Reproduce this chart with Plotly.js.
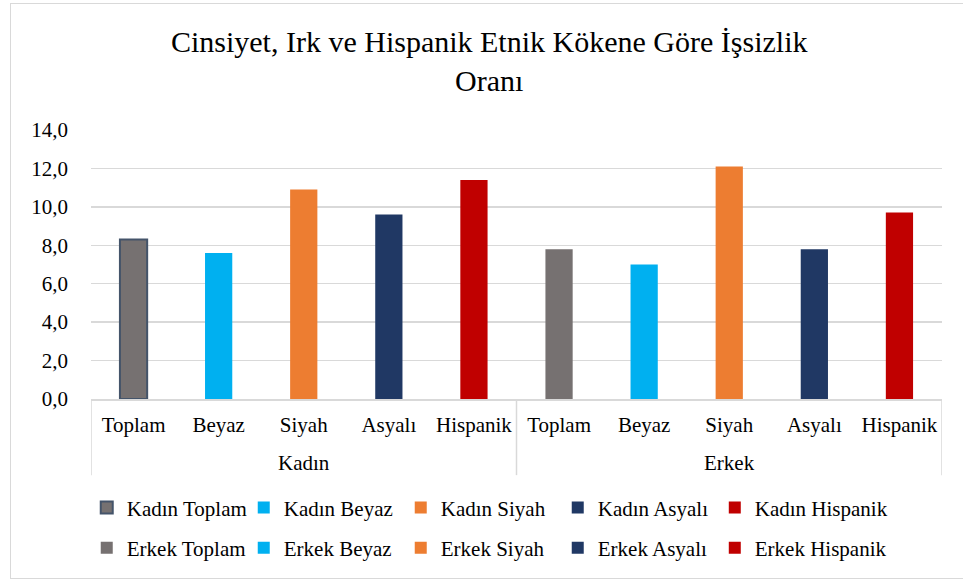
<!DOCTYPE html>
<html>
<head>
<meta charset="utf-8">
<script src="https://cdn.plot.ly/plotly-3.0.1.min.js"></script>
<style>
html,body{margin:0;padding:0;background:#fff;overflow:hidden;}
#frame{position:absolute;left:10px;top:3px;width:980px;height:574px;border:1px solid #d9d9d9;box-sizing:content-box;}
#chart{position:absolute;left:0;top:0;width:963px;height:581px;}
</style>
</head>
<body>
<div id="frame"></div>
<div id="chart"></div>
<script>
const groups = ['Kadın', 'Erkek'];
const races = ['Toplam', 'Beyaz', 'Siyah', 'Asyalı', 'Hispanik'];
const kadinValues = [8.3, 7.6, 10.9, 9.6, 11.4];
const erkekValues = [7.8, 7.0, 12.1, 7.8, 9.7];
const raceColors = ['#767171', '#00b0f0', '#ed7d31', '#203864', '#c00000'];
const yTickVals = [0, 2, 4, 6, 8, 10, 12, 14];

const FONT = 'Liberation Serif, Times New Roman, serif';
const seriesValues = [kadinValues, erkekValues];
const lastRace = races.length - 1;

const rowLegend = ['legend', 'legend2'];
const tailLegend = ['legend3', 'legend4'];

const categoryKeys = [];
const categoryText = [];
const traces = [];
groups.forEach((g, gi) => {
  races.forEach((r, ri) => {
    const key = g + ' ' + r;
    categoryKeys.push(key);
    categoryText.push(r);
    const outlined = (gi === 0 && ri === 0);
    traces.push({
      type: 'bar',
      x: [key],
      y: [seriesValues[gi][ri]],
      name: key,
      width: 0.32,
      marker: {
        color: raceColors[ri],
        line: outlined ? {color: '#44546a', width: 2} : {width: 0}
      },
      legend: ri === lastRace ? tailLegend[gi] : rowLegend[gi],
      hoverinfo: 'y'
    });
  });
});

const annotations = groups.map((g, gi) => ({
  text: g,
  x: categoryKeys[gi * races.length + Math.floor(races.length / 2)],
  xref: 'x', yref: 'paper', y: -0.238,
  xanchor: 'center', yanchor: 'middle',
  showarrow: false,
  font: {family: FONT, size: 21, color: '#000'}
}));

const shapes = [];
for (let k = 0; k <= groups.length; k++) {
  const xb = k * races.length - 0.5;
  shapes.push({
    type: 'line', xref: 'x', yref: 'paper',
    x0: xb, x1: xb, y0: 0, y1: -0.283,
    line: {color: '#d9d9d9', width: 1.5}
  });
}

const legendCommon = {
  orientation: 'h',
  xref: 'paper', yref: 'paper',
  x: -0.005, xanchor: 'left',
  yanchor: 'middle',
  entrywidth: 112, entrywidthmode: 'pixels',
  itemwidth: 30,
  font: {family: FONT, size: 21, color: '#000'},
  bgcolor: 'rgba(0,0,0,0)',
  traceorder: 'normal'
};
const tailCommon = Object.assign({}, legendCommon, {x: 0.733, entrywidth: 0});

const layout = {
  width: 963, height: 581,
  paper_bgcolor: 'rgba(0,0,0,0)',
  plot_bgcolor: 'rgba(0,0,0,0)',
  separators: ',.',
  font: {family: FONT, size: 21, color: '#000'},
  margin: {l: 91, r: 21, t: 130, b: 182},
  title: {
    text: 'Cinsiyet, Irk ve Hispanik Etnik Kökene Göre İşsizlik<br>Oranı',
    font: {family: FONT, size: 30, color: '#000'},
    xref: 'container', x: 0.508, xanchor: 'center',
    yref: 'container', y: 0.91, yanchor: 'top'
  },
  barmode: 'overlay',
  showlegend: true,
  annotations: annotations,
  shapes: shapes,
  xaxis: {
    type: 'category',
    categoryorder: 'array', categoryarray: categoryKeys,
    tickvals: categoryKeys, ticktext: categoryText,
    range: [-0.5, categoryKeys.length - 0.5],
    showline: true, linecolor: '#d9d9d9', linewidth: 1.5,
    showgrid: false,
    ticks: '',
    ticklabelstandoff: 6,
    tickfont: {family: FONT, size: 21, color: '#000'},
    fixedrange: true
  },
  yaxis: {
    range: [0, 14],
    tickvals: yTickVals,
    tickformat: '.1f',
    showgrid: true, gridcolor: '#d9d9d9', gridwidth: 1.5,
    zeroline: false,
    showline: false,
    ticks: '',
    ticklabelstandoff: 22,
    tickfont: {family: FONT, size: 21, color: '#000'},
    fixedrange: true
  },
  legend: Object.assign({}, legendCommon, {y: -0.405}),
  legend2: Object.assign({}, legendCommon, {y: -0.554}),
  legend3: Object.assign({}, tailCommon, {y: -0.405}),
  legend4: Object.assign({}, tailCommon, {y: -0.554})
};

Plotly.newPlot('chart', traces, layout, {displayModeBar: false, staticPlot: true});
</script>
</body>
</html>
